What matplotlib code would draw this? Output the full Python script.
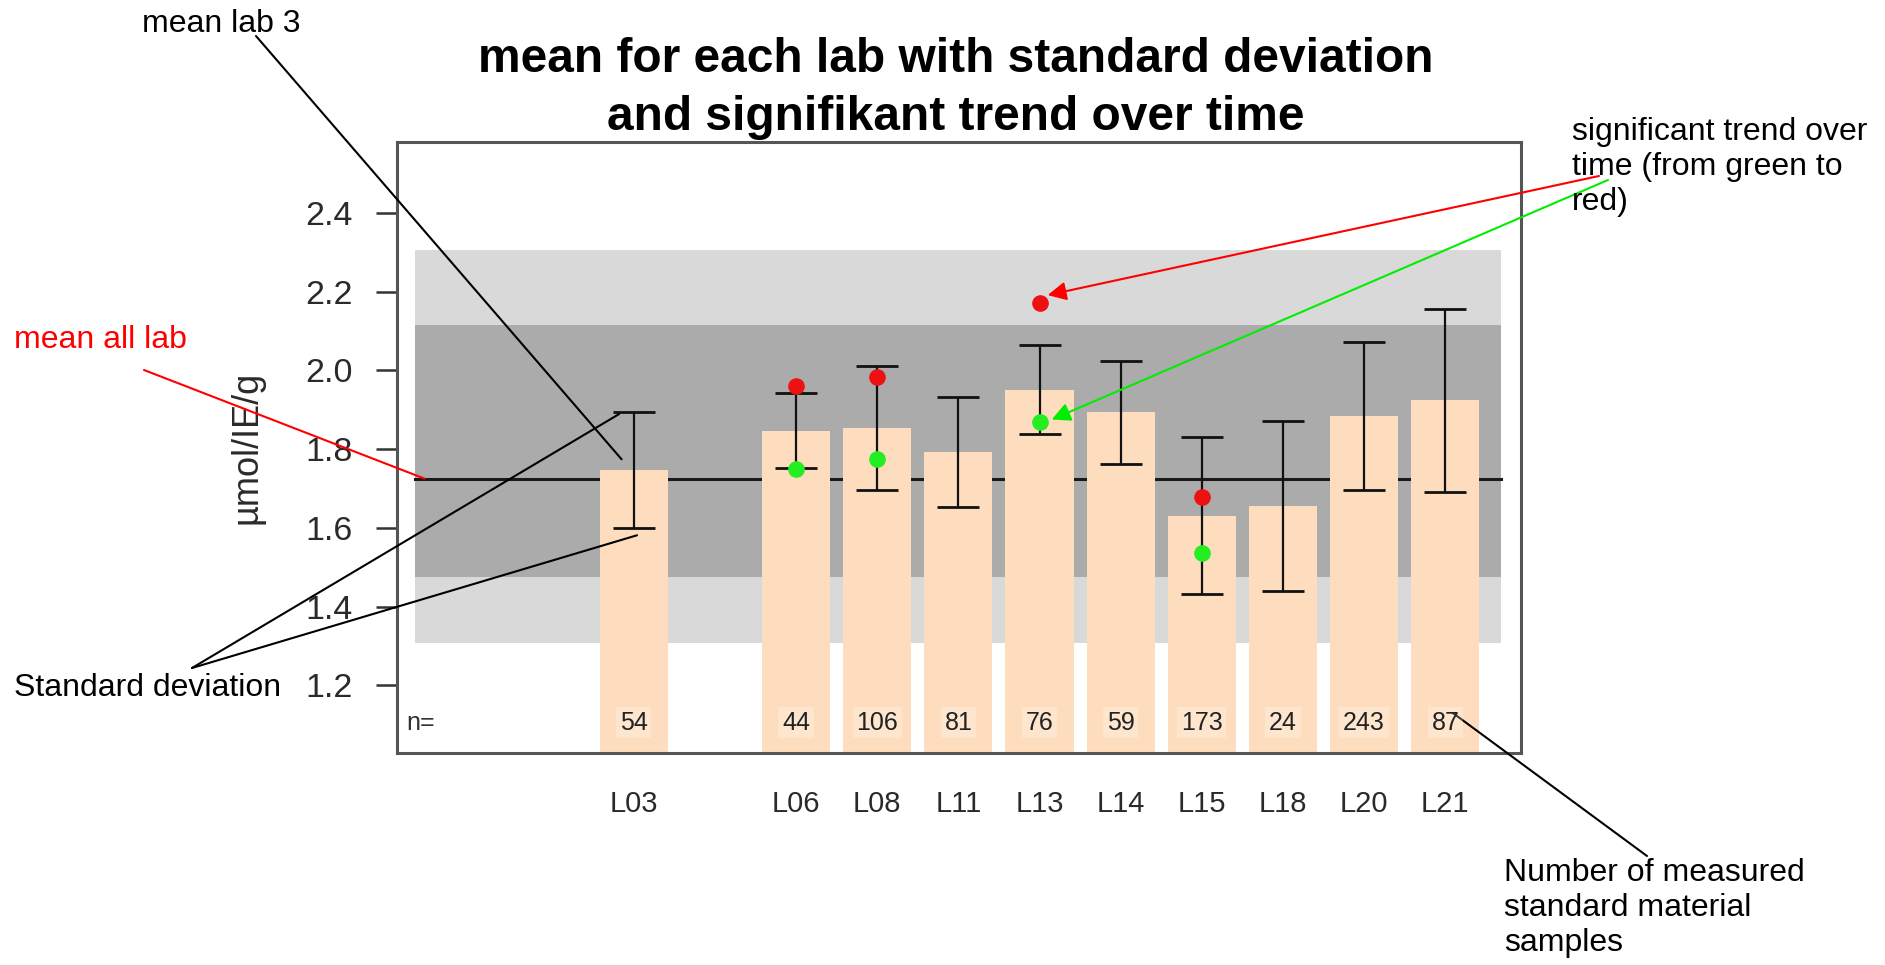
import matplotlib.pyplot as plt
import numpy as np

plt.rcParams['font.family'] = ['Liberation Sans', 'DejaVu Sans']

# values
labs = ['L03', 'L06', 'L08', 'L11', 'L13', 'L14', 'L15', 'L18', 'L20', 'L21']
lab_mean = [1.747, 1.847, 1.853, 1.792, 1.951, 1.893, 1.631, 1.655, 1.884, 1.924]
lab_sd = [0.148, 0.095, 0.157, 0.139, 0.113, 0.130, 0.200, 0.216, 0.189, 0.232]
n_samples = [54, 44, 106, 81, 76, 59, 173, 24, 243, 87]

trend_labs = ['L06', 'L08', 'L13', 'L15']
trend_start = [1.750, 1.774, 1.869, 1.536]   # green
trend_end = [1.960, 1.982, 2.171, 1.679]     # red

mean_all = 1.725
band_inner = (1.476, 2.116)
band_outer = (1.307, 2.305)
yticks = [1.2, 1.4, 1.6, 1.8, 2.0, 2.2, 2.4]

title = 'mean for each lab with standard deviation\nand signifikant trend over time'

# slot positions: one empty slot after L03
xpos = np.arange(len(labs)) + 1.0
xpos[0] = 0.0
lab_x = dict(zip(labs, xpos))
trend_x = [lab_x[l] for l in trend_labs]

fig = plt.figure(figsize=(18.85, 9.65), dpi=100)
ax = fig.add_axes([0.2105, 0.2201, 0.5963, 0.6328])

x_left, x_right = -2.92, 10.93
band_l, band_r = -2.70, 10.68
ax.set_xlim(x_left, x_right)
ax.set_ylim(1.029, 2.580)

# background bands
ax.fill_between([band_l, band_r], band_outer[0], band_outer[1], color='#D9D9D9', lw=0, zorder=0)
ax.fill_between([band_l, band_r], band_inner[0], band_inner[1], color='#ABABAB', lw=0, zorder=0.5)
ax.plot([band_l, band_r], [mean_all, mean_all], color='#1A1A1A', lw=2.2, zorder=1)

ax.bar(xpos, np.array(lab_mean) - 1.0, bottom=1.0, width=0.84, color='#FDDDBE', zorder=2)
ax.errorbar(xpos, lab_mean, yerr=lab_sd, fmt='none', ecolor='#111111', elinewidth=1.6,
            capsize=15, capthick=2, zorder=3)
ax.plot(trend_x, trend_start, 'o', color='#22EE22', ms=12, mec='none', zorder=4)
ax.plot(trend_x, trend_end, 'o', color='#EE1111', ms=12, mec='none', zorder=4)

n_y = 1.105
ax.text(-2.8, n_y, 'n=', ha='left', va='center', fontsize=18, color='#333333', zorder=5)
for x, n in zip(xpos, n_samples):
    ax.text(x, n_y, str(n), ha='center', va='center', fontsize=18, color='#222222', zorder=5,
            bbox=dict(boxstyle='square,pad=0.15', fc='white', ec='none', alpha=0.25))

ax.set_yticks(yticks)
ax.set_yticklabels(['%.1f' % v for v in yticks])
ax.tick_params(axis='y', labelsize=24.5, labelcolor='#2A2A2A', color='#333333',
               length=15, width=1.8, pad=17)
ax.set_xticks(xpos)
ax.set_xticklabels(labs)
ax.tick_params(axis='x', length=0, labelsize=21, labelcolor='#2A2A2A', pad=27)
for s in ax.spines.values():
    s.set_color('#555555')
    s.set_linewidth(2.2)

ax.text(-0.1336, 0.5, 'µmol/IE/g', transform=ax.transAxes, rotation=90,
        ha='center', va='center', fontsize=26, color='#2A2A2A')

fig.text(0.507, 0.908, title, ha='center', va='center', fontsize=34.5,
         fontweight='bold', linespacing=1.37)

# annotations (text placed in figure pixels, targets in data coords)
line = dict(arrowstyle='-', color='black', lw=1.5, shrinkA=0, shrinkB=0)

fig.text(142, 941, 'mean lab 3', transform=None, ha='left', va='center', fontsize=23)
ax.annotate('', xy=(xpos[0] - 0.15, lab_mean[0] + 0.027), xytext=(256, 929),
            textcoords='figure pixels', arrowprops=line)

fig.text(14, 625, 'mean all lab', transform=None, ha='left', va='center', fontsize=23, color='#FF0000')
ax.annotate('', xy=(band_l + 0.12, mean_all), xytext=(144, 595), textcoords='figure pixels',
            arrowprops=dict(line, color='#FF0000'))

fig.text(14, 277, 'Standard deviation', transform=None, ha='left', va='center', fontsize=23)
ax.annotate('', xy=(xpos[0] - 0.18, lab_mean[0] + lab_sd[0] - 0.006), xytext=(192, 297),
            textcoords='figure pixels', arrowprops=line)
ax.annotate('', xy=(xpos[0] + 0.04, lab_mean[0] - lab_sd[0] - 0.018), xytext=(192, 297),
            textcoords='figure pixels', arrowprops=line)

fig.text(1572, 798, 'significant trend over\ntime (from green to\nred)', transform=None,
         ha='left', va='center', fontsize=23, linespacing=1.2)
i13 = trend_labs.index('L13')
ax.annotate('', xy=(trend_x[i13] + 0.1, trend_end[i13] + 0.02), xytext=(1599, 789),
            textcoords='figure pixels',
            arrowprops=dict(arrowstyle='-|>', color='#FF0000', lw=1.5, mutation_scale=28,
                            shrinkA=0, shrinkB=0))
ax.annotate('', xy=(trend_x[i13] + 0.15, trend_start[i13] + 0.006), xytext=(1608, 785),
            textcoords='figure pixels',
            arrowprops=dict(arrowstyle='-|>', color='#00EE00', lw=1.5, mutation_scale=28,
                            shrinkA=0, shrinkB=0))

fig.text(1504, 57, 'Number of measured\nstandard material\nsamples', transform=None,
         ha='left', va='center', fontsize=23, linespacing=1.2)
ax.annotate('', xy=(xpos[-1] + 0.09, n_y + 0.025), xytext=(1647, 109),
            textcoords='figure pixels', arrowprops=line)

fig.savefig('out.png', dpi=100)
